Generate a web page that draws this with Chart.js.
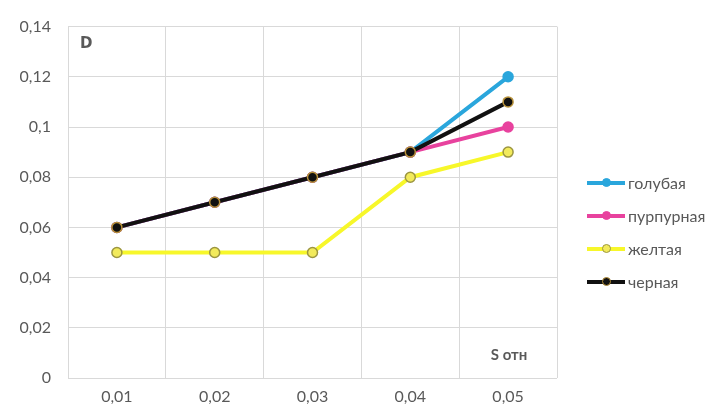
<!DOCTYPE html>
<html>
<head>
<meta charset="utf-8">
<script src="https://cdn.jsdelivr.net/npm/chart.js@4/dist/chart.umd.min.js"></script>
<style>
  html, body { margin: 0; padding: 0; background: #fff; }
  #wrap { position: relative; width: 728px; height: 409px; }
  #legend { position: absolute; left: 587px; top: 166px; font-family: Lato, 'Open Sans', sans-serif; font-size: 16px; color: #595959; }
  .lg-item { display: flex; align-items: center; height: 33px; }
  .lg-sym { position: relative; width: 38px; height: 10px; margin-right: 3px; }
  .lg-line { position: absolute; left: 0; right: 0; top: 3px; height: 4px; }
  .lg-dot { position: absolute; left: 15px; top: 0; width: 7px; height: 7px; border-radius: 50%; border: 1.5px solid; }
</style>
</head>
<body>
<div id="wrap">
  <canvas id="chart" width="728" height="409"></canvas>
  <div id="legend"></div>
</div>
<script>
// --- data ---
const categories = ['0,01', '0,02', '0,03', '0,04', '0,05'];
const seriesNames = ['голубая', 'пурпурная', 'желтая', 'черная'];
const blueVals    = [0.06, 0.07, 0.08, 0.09, 0.12];
const magentaVals = [0.06, 0.07, 0.08, 0.09, 0.10];
const yellowVals  = [0.05, 0.05, 0.05, 0.08, 0.09];
const blackVals   = [0.06, 0.07, 0.08, 0.09, 0.11];
const yTicks = [0, 0.02, 0.04, 0.06, 0.08, 0.1, 0.12, 0.14];

const lineColors   = ['#2aa6dc', '#e8429e', '#f7f72a', '#111111'];
const pointFills   = ['#2aa6dc', '#e8429e', '#f2ea5c', '#111111'];
const pointBorders = ['#2aa6dc', '#e8429e', '#9c9640', '#b8923a'];
const values = [blueVals, magentaVals, yellowVals, blackVals];

const fmt = v => String(+v.toFixed(2)).replace('.', ',');

// Axis annotations "D" and "S отн"
const axisText = {
  id: 'axisText',
  afterDraw(chart) {
    const { ctx, chartArea } = chart;
    const xs = chart.scales.x;
    ctx.save();
    ctx.fillStyle = '#595959';
    ctx.font = 'bold 15px "DejaVu Sans", sans-serif';
    ctx.textBaseline = 'middle';
    ctx.textAlign = 'left';
    ctx.fillText('D', chartArea.left + 12, chartArea.top + 18);
    ctx.font = 'bold 15px Lato, "Open Sans", sans-serif';
    ctx.textAlign = 'center';
    ctx.fillText('S отн', xs.getPixelForValue(4) + 1, chartArea.bottom - 23);
    ctx.restore();
  }
};

const ctx = document.getElementById('chart').getContext('2d');
new Chart(ctx, {
  type: 'line',
  data: {
    labels: categories,
    datasets: seriesNames.map((name, i) => ({
      label: name,
      data: values[i],
      borderColor: lineColors[i],
      borderWidth: 4,
      backgroundColor: pointFills[i],
      pointBackgroundColor: pointFills[i],
      pointBorderColor: pointBorders[i],
      pointBorderWidth: 1.5,
      pointRadius: 5,
      tension: 0,
      order: 3 - i
    }))
  },
  options: {
    responsive: false,
    animation: false,
    layout: { padding: { top: 22, right: 171, left: 0, bottom: 0 } },
    plugins: { legend: { display: false }, tooltip: { enabled: false } },
    scales: {
      x: {
        offset: true,
        grid: { offset: true, color: '#d9d9d9', drawTicks: false },
        border: { display: false },
        ticks: { color: '#595959', padding: 9, font: { family: 'Lato', size: 16 } },
        afterFit: a => { a.height = 31; }
      },
      y: {
        min: 0, max: 0.14,
        afterBuildTicks: a => { a.ticks = yTicks.map(v => ({ value: v })); },
        grid: { color: '#d9d9d9', drawTicks: false },
        border: { display: false },
        ticks: { color: '#595959', padding: 17, font: { family: 'Lato', size: 16 }, callback: v => fmt(v) },
        afterFit: a => { a.width = 68; }
      }
    }
  },
  plugins: [axisText]
});

// HTML legend (line + marker)
const legend = document.getElementById('legend');
seriesNames.forEach((name, i) => {
  legend.insertAdjacentHTML('beforeend',
    `<div class="lg-item"><div class="lg-sym">
       <div class="lg-line" style="background:${lineColors[i]}"></div>
       <div class="lg-dot" style="background:${pointFills[i]};border-color:${pointBorders[i]}"></div>
     </div>${name}</div>`);
});
</script>
</body>
</html>
